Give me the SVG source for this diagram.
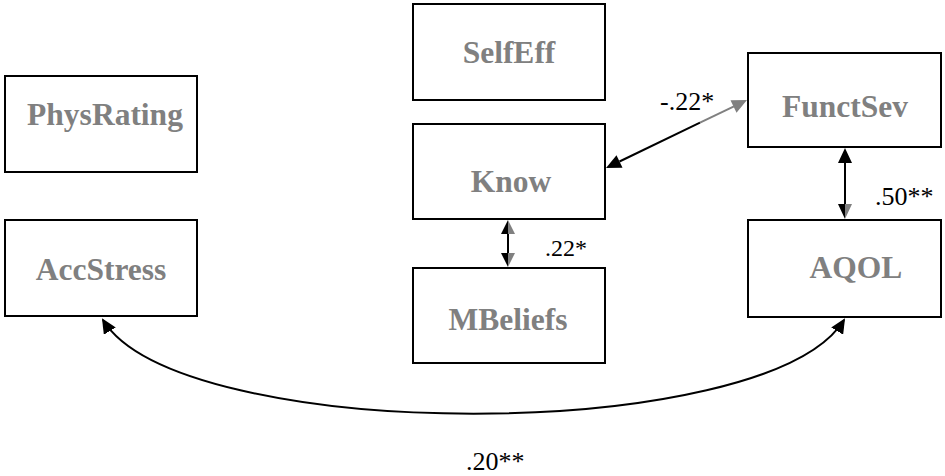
<svg xmlns="http://www.w3.org/2000/svg" width="945" height="476" viewBox="0 0 945 476">
  <defs>
    <marker id="arrow" markerUnits="userSpaceOnUse" markerWidth="16" markerHeight="14" refX="13" refY="7" orient="auto-start-reverse">
      <path d="M0,0 L15,7 L0,14 z" fill="#000000"/>
    </marker>
  </defs>

  <rect width="945" height="476" fill="#ffffff"/>

  <!-- variable boxes: white fill, 2px black outline, grey bold serif label -->
  <g fill="#ffffff" stroke="#000000" stroke-width="2">
    <g id="PhysRating">
      <rect x="5" y="76" width="192" height="96"/>
      <text x="105" y="125" stroke="none" fill="#808080" text-anchor="middle" font-family="'Liberation Serif'" font-size="31.5" font-weight="bold">PhysRating</text>
    </g>
    <g id="AccStress">
      <rect x="5" y="220" width="192" height="96"/>
      <text x="101" y="280" stroke="none" fill="#808080" text-anchor="middle" font-family="'Liberation Serif'" font-size="31.5" font-weight="bold">AccStress</text>
    </g>
    <g id="SelfEff">
      <rect x="413" y="4" width="192" height="96"/>
      <text x="509" y="63" stroke="none" fill="#808080" text-anchor="middle" font-family="'Liberation Serif'" font-size="31.5" font-weight="bold">SelfEff</text>
    </g>
    <g id="Know">
      <rect x="413" y="124" width="192" height="95"/>
      <text x="511" y="192" stroke="none" fill="#808080" text-anchor="middle" font-family="'Liberation Serif'" font-size="31.5" font-weight="bold">Know</text>
    </g>
    <g id="MBeliefs">
      <rect x="413" y="268" width="192" height="95"/>
      <text x="508" y="330" stroke="none" fill="#808080" text-anchor="middle" font-family="'Liberation Serif'" font-size="31.5" font-weight="bold">MBeliefs</text>
    </g>
    <g id="FunctSev">
      <rect x="748" y="53" width="193" height="94"/>
      <text x="845" y="117" stroke="none" fill="#808080" text-anchor="middle" font-family="'Liberation Serif'" font-size="31.5" font-weight="bold">FunctSev</text>
    </g>
    <g id="AQOL">
      <rect x="748" y="220" width="193" height="97"/>
      <text x="856" y="278" stroke="none" fill="#808080" text-anchor="middle" font-family="'Liberation Serif'" font-size="31.5" font-weight="bold">AQOL</text>
    </g>
  </g>

  <g id="connectors">
    <!-- Know <-> FunctSev -->
    <line x1="619.5" y1="161.5" x2="700" y2="122.7" stroke="#000000" stroke-width="2"/>
    <line x1="700" y1="122.7" x2="734" y2="106.3" stroke="#808080" stroke-width="2"/>
    <polygon points="606,168 622.5,167.8 616.5,155.2" fill="#000000"/>
    <polygon points="747,100 736.5,112.8 730.5,100.2" fill="#808080"/>
    <text x="660" y="110" fill="#000000" font-family="'Liberation Serif'" font-size="26">-.22*</text>

    <!-- Know <-> MBeliefs -->
    <line x1="508" y1="233" x2="508" y2="254" stroke="#000000" stroke-width="2"/>
    <polygon points="508,220 501,234 508,234" fill="#000000"/>
    <polygon points="508,220 515,234 508,234" fill="#808080"/>
    <polygon points="508,267 501,253 508,253" fill="#000000"/>
    <polygon points="508,267 515,253 508,253" fill="#808080"/>
    <text x="545" y="256" fill="#000000" font-family="'Liberation Serif'" font-size="24">.22*</text>

    <!-- FunctSev <-> AQOL -->
    <line x1="845" y1="161" x2="845" y2="206" stroke="#000000" stroke-width="2"/>
    <polygon points="845,148 838,163 852,163" fill="#000000"/>
    <polygon points="845,219 838,204 845,204" fill="#000000"/>
    <polygon points="845,219 852,204 845,204" fill="#808080"/>
    <text x="875" y="205" fill="#000000" font-family="'Liberation Serif'" font-size="26">.50**</text>

    <!-- AccStress <-> AQOL -->
    <path d="M103,320 C180,445 767,445 844,320" fill="none" stroke="#000000" stroke-width="2" marker-start="url(#arrow)" marker-end="url(#arrow)"/>
    <text x="466" y="470" fill="#000000" font-family="'Liberation Serif'" font-size="26">.20**</text>
  </g>
</svg>
